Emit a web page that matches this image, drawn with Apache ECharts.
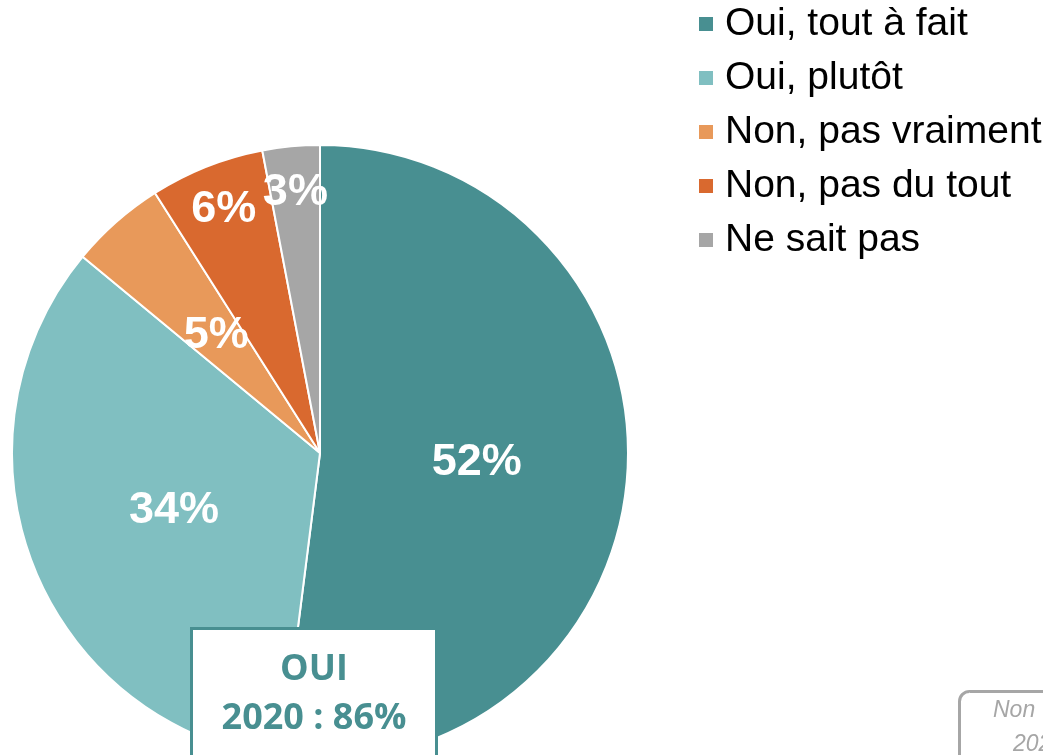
<!DOCTYPE html>
<html>
<head>
<meta charset="utf-8">
<script src="https://cdn.jsdelivr.net/npm/echarts@6/dist/echarts.min.js"></script>
<style>
  html, body { margin: 0; padding: 0; background: #ffffff; }
  #chart { width: 1043px; height: 755px; }
</style>
</head>
<body>
<div id="chart"></div>
<script>
// Survey answers (percent)
const categories = ['Oui, tout à fait', 'Oui, plutôt', 'Non, pas vraiment', 'Non, pas du tout', 'Ne sait pas'];
const values = [52, 34, 5, 6, 3];
const colors = ['#488f91', '#80bfc1', '#e8995a', '#d9692f', '#a6a6a6'];
// slices whose labels sit further out, near the rim
const outerLabelIdx = [3, 4];

const yesTotal = values[0] + values[1];
const noTotal = values[2] + values[3] + values[4];

const center = [320, 453];
const radius = 308;

const labelFont = {
  color: '#ffffff',
  fontFamily: 'Liberation Sans, Arial, sans-serif',
  fontWeight: 'bold',
  fontSize: 45,
  formatter: '{c}%'
};

const mainData = categories.map((name, i) => ({
  name: name,
  value: values[i],
  itemStyle: { color: colors[i] },
  label: { show: outerLabelIdx.indexOf(i) < 0 }
}));

// invisible twin ring used only to place the small-slice labels near the edge
const rimData = categories.map((name, i) => ({
  name: name,
  value: values[i],
  label: { show: outerLabelIdx.indexOf(i) >= 0 }
}));

const chart = echarts.init(document.getElementById('chart'));
chart.setOption({
  animation: false,
  color: colors,
  legend: {
    orient: 'vertical',
    left: 697,
    top: 2,
    padding: 0,
    itemWidth: 16,
    itemHeight: 16,
    itemGap: 10,
    icon: 'rect',
    data: categories,
    selectedMode: false,
    textStyle: {
      color: '#000000',
      fontFamily: 'Liberation Sans, Arial, sans-serif',
      fontSize: 39,
      lineHeight: 44,
      padding: [0, 0, 0, 6]
    }
  },
  series: [
    {
      type: 'pie',
      center: center,
      radius: radius,
      startAngle: 90,
      clockwise: true,
      avoidLabelOverlap: false,
      itemStyle: { borderColor: '#ffffff', borderWidth: 2 },
      label: Object.assign({ position: 'inside' }, labelFont),
      labelLine: { show: false },
      emphasis: { disabled: true },
      data: mainData,
      z: 2
    },
    {
      type: 'pie',
      center: center,
      radius: [0, radius * 1.68],
      startAngle: 90,
      clockwise: true,
      silent: true,
      legendHoverLink: false,
      avoidLabelOverlap: false,
      itemStyle: { color: 'rgba(0,0,0,0)', borderWidth: 0 },
      label: Object.assign({ position: 'inside' }, labelFont),
      labelLine: { show: false },
      emphasis: { disabled: true },
      data: rimData,
      z: 3
    }
  ],
  graphic: [
    {
      type: 'rect',
      z: 10,
      shape: { x: 191.5, y: 628.5, width: 245, height: 140 },
      style: { fill: '#ffffff', stroke: '#488f91', lineWidth: 3 }
    },
    {
      type: 'text',
      z: 11,
      x: 314, y: 670,
      style: {
        text: 'OUI',
        fill: '#488f91',
        font: 'bold 36px "Open Sans", sans-serif',
        align: 'center', verticalAlign: 'middle'
      }
    },
    {
      type: 'text',
      z: 11,
      x: 314, y: 719,
      style: {
        text: '2020 : ' + yesTotal + '%',
        fill: '#488f91',
        font: 'bold 36px "Open Sans", sans-serif',
        align: 'center', verticalAlign: 'middle'
      }
    },
    {
      type: 'rect',
      z: 10,
      shape: { x: 959.5, y: 691.5, width: 245, height: 140, r: 10 },
      style: { fill: '#ffffff', stroke: '#a6a6a6', lineWidth: 3 }
    },
    {
      type: 'text',
      z: 11,
      x: 993, y: 711,
      style: {
        text: 'Non',
        fill: '#a6a6a6',
        font: 'italic 23px "Liberation Sans", Arial, sans-serif',
        align: 'left', verticalAlign: 'middle'
      }
    },
    {
      type: 'text',
      z: 11,
      x: 1013, y: 745,
      style: {
        text: '2020 : ' + noTotal + '%',
        fill: '#a6a6a6',
        font: 'italic 23px "Liberation Sans", Arial, sans-serif',
        align: 'left', verticalAlign: 'middle'
      }
    }
  ]
});
</script>
</body>
</html>
